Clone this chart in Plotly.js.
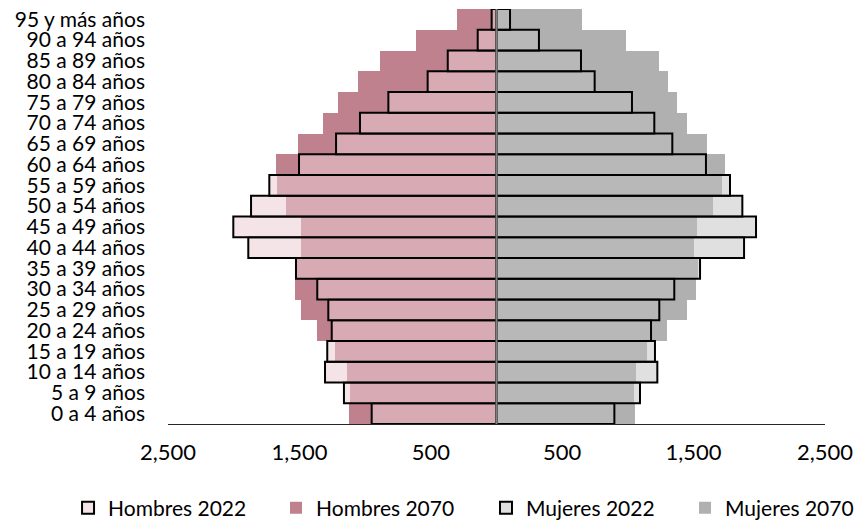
<!DOCTYPE html>
<html>
<head>
<meta charset="utf-8">
<script src="https://cdn.plot.ly/plotly-3.0.1.min.js"></script>
<style>html,body{margin:0;padding:0;background:#fff;}#chart{width:858px;height:524px;}</style>
</head>
<body>
<div id="chart"></div>
<script>
// Age groups, bottom to top
var categories = ["0 a 4 años","5 a 9 años","10 a 14 años","15 a 19 años","20 a 24 años","25 a 29 años","30 a 34 años","35 a 39 años","40 a 44 años","45 a 49 años","50 a 54 años","55 a 59 años","60 a 64 años","65 a 69 años","70 a 74 años","75 a 79 años","80 a 84 años","85 a 89 años","90 a 94 años","95 y más años"];
// Population (thousands)
var hombres2022 = [950,1161,1305,1288,1254,1280,1364,1526,1889,2003,1868,1729,1503,1221,1039,823,524,371,143,37];
var hombres2070 = [1123,1115,1140,1229,1364,1488,1533,1520,1488,1490,1602,1673,1678,1513,1323,1204,1052,887,613,301];
var mujeres2022 = [897,1092,1224,1206,1176,1239,1353,1549,1884,1975,1871,1777,1594,1338,1201,1031,747,643,323,103];
var mujeres2070 = [1054,1046,1062,1148,1300,1447,1516,1536,1505,1523,1645,1718,1739,1600,1447,1376,1305,1234,983,651];
var tickValues = [-2500,-1500,-500,500,1500,2500];
var tickLabels = ["2,500","1,500","500","500","1,500","2,500"];

function neg(a){return a.map(function(v){return -v;});}

var traces = [
  {type:'bar', orientation:'h', name:'Hombres 2070', y:categories, x:neg(hombres2070),
   marker:{color:'#c0818f', line:{width:0}}, legend:'legend2'},
  {type:'bar', orientation:'h', name:'Mujeres 2070', y:categories, x:mujeres2070,
   marker:{color:'#b0b0b0', line:{width:0}}, legend:'legend4'},
  {type:'bar', orientation:'h', name:'Hombres 2022', y:categories, x:neg(hombres2022),
   marker:{color:'rgba(236,205,210,0.54)', line:{color:'#000', width:2}}, legend:'legend'},
  {type:'bar', orientation:'h', name:'Mujeres 2022', y:categories, x:mujeres2022,
   marker:{color:'rgba(192,192,192,0.49)', line:{color:'#000', width:2}}, legend:'legend3'}
];

function leg(x){
  return {orientation:'h', xref:'container', yref:'container',
          x:x, xanchor:'left', y:0.0305, yanchor:'middle',
          bgcolor:'rgba(0,0,0,0)',
          font:{family:'Lato, sans-serif', size:21, color:'#000'}};
}

var layout = {
  width:858, height:524,
  margin:{l:168, r:33, t:9, b:100, autoexpand:false},
  paper_bgcolor:'#fff', plot_bgcolor:'#fff',
  font:{family:'Lato, "Open Sans", sans-serif', size:22, color:'#000'},
  barmode:'overlay', bargap:0,
  showlegend:true,
  legend:leg(0.0793),
  legend2:leg(0.3217),
  legend3:leg(0.5664),
  legend4:leg(0.7984),
  xaxis:{range:[-2500,2500], tickmode:'array', tickvals:tickValues, ticktext:tickLabels,
         showgrid:false, zeroline:false, showline:true, linecolor:'#262626', linewidth:1,
         ticks:'', ticklabelstandoff:9, fixedrange:true, automargin:false},
  yaxis:{type:'category', categoryorder:'array', categoryarray:categories,
         tickmode:'array', tickvals:categories, ticktext:categories,
         tickfont:{size:21},
         showgrid:false, zeroline:false, showline:false, ticks:'',
         ticklabelstandoff:22, fixedrange:true, automargin:false},
  shapes:[{type:'line', xref:'x', yref:'paper', x0:0, x1:0, y0:0, y1:1,
           line:{color:'#808080', width:2}, layer:'above'}]
};

Plotly.newPlot('chart', traces, layout, {displayModeBar:false, staticPlot:true});
</script>
</body>
</html>
